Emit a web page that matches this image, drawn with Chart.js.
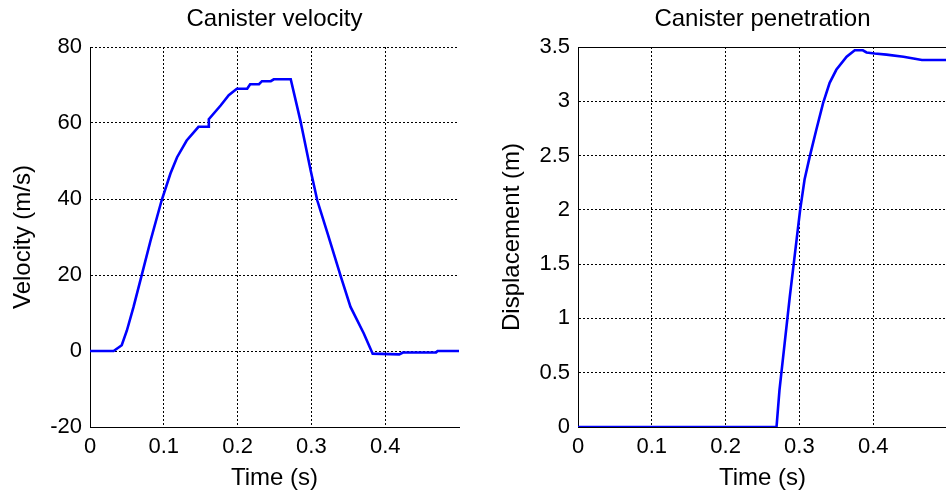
<!DOCTYPE html>
<html>
<head>
<meta charset="utf-8">
<script src="https://cdn.jsdelivr.net/npm/chart.js@4.4.1/dist/chart.umd.min.js"></script>
<style>
  html, body { margin: 0; padding: 0; background: #fff; overflow: hidden; }
  body { width: 946px; height: 494px; position: relative; }
  .panel { position: absolute; top: 0; height: 494px; }
  #velPanel { left: 0; width: 470px; }
  #dispPanel { left: 480px; width: 476px; }
</style>
</head>
<body>
<div class="panel" id="velPanel"><canvas id="velChart"></canvas></div>
<div class="panel" id="dispPanel"><canvas id="dispChart"></canvas></div>
<script>
// Canister velocity
const velTime = [0, 0.032, 0.043, 0.050, 0.059, 0.070, 0.082, 0.097, 0.109, 0.118, 0.131, 0.147,
  0.160, 0.161, 0.177, 0.188, 0.199, 0.213, 0.217, 0.229, 0.233, 0.245, 0.249, 0.272,
  0.285, 0.299, 0.308, 0.322, 0.340, 0.353, 0.371, 0.383, 0.419, 0.424, 0.469, 0.471, 0.5];
const velValues = [0, 0, 1.5, 5.4, 11.6, 19.9, 29, 39.6, 46.7, 51, 55.4, 59,
  59, 61, 64.6, 67.3, 69, 69, 70.2, 70.2, 71, 71, 71.5, 71.5,
  60.7, 47.5, 39.6, 30.9, 19.5, 11.6, 4.6, -0.7, -0.9, -0.4, -0.35, 0, 0];

// Canister penetration
const dispTime = [0, 0.269, 0.273, 0.280, 0.287, 0.294, 0.301, 0.307, 0.314, 0.323, 0.332,
  0.341, 0.350, 0.364, 0.375, 0.386, 0.391, 0.402, 0.418, 0.441, 0.466, 0.5];
const dispValues = [0, 0, 0.34, 0.77, 1.2, 1.6, 2.0, 2.28, 2.49, 2.74, 2.98,
  3.17, 3.29, 3.41, 3.47, 3.47, 3.45, 3.44, 3.43, 3.41, 3.38, 3.38];

// Tick labels
const timeTicks = [0, 0.1, 0.2, 0.3, 0.4];
const velTicks = [-20, 0, 20, 40, 60, 80];
const dispTicks = [0, 0.5, 1, 1.5, 2, 2.5, 3, 3.5];

const FAMILY = '"Liberation Sans", Arial, sans-serif';
const TICK_FONT = { family: FAMILY, size: 22 };
const LABEL_FONT = { family: FAMILY, size: 24, weight: 'normal' };
Chart.defaults.color = '#000';
Chart.defaults.font = TICK_FONT;

function setTicks(values) {
  return scale => { scale.ticks = values.map(v => ({ value: v })); };
}

// solid line along the top edge of the plot box
const topEdge = {
  id: 'topEdge',
  afterDraw(chart, args, opts) {
    if (!opts.show) return;
    const { ctx, chartArea } = chart;
    ctx.save();
    ctx.strokeStyle = '#000';
    ctx.lineWidth = 1;
    ctx.beginPath();
    ctx.moveTo(chartArea.left, Math.round(chartArea.top) + 0.5);
    ctx.lineTo(chartArea.right, Math.round(chartArea.top) + 0.5);
    ctx.stroke();
    ctx.restore();
  }
};

function makeChart(id, cfg) {
  return new Chart(document.getElementById(id), {
    type: 'line',
    data: {
      datasets: [{
        data: cfg.xs.map((x, i) => ({ x, y: cfg.ys[i] })),
        borderColor: '#0000ff',
        borderWidth: 2.6,
        pointRadius: 0,
        tension: 0,
        fill: false
      }]
    },
    options: {
      responsive: true,
      maintainAspectRatio: false,
      animation: false,
      layout: { padding: { left: 0, right: cfg.padRight, top: 0, bottom: 0 } },
      plugins: {
        legend: { display: false },
        tooltip: { enabled: false },
        title: {
          display: true,
          text: cfg.title,
          fullSize: false,
          font: LABEL_FONT,
          padding: { top: 5, bottom: 13.2 }
        },
        topEdge: { show: cfg.topEdge }
      },
      scales: {
        x: {
          type: 'linear',
          min: 0,
          max: 0.5,
          afterBuildTicks: setTicks(timeTicks),
          afterFit: s => { s.height = 67; },
          grid: { color: '#000', lineWidth: 1, drawTicks: false },
          border: { color: '#000', width: 1, dash: [2, 2] },
          ticks: { padding: 7, maxRotation: 0, callback: v => String(v) },
          title: { display: true, text: 'Time (s)', font: LABEL_FONT, padding: { top: 0, bottom: 1.6 } }
        },
        y: {
          type: 'linear',
          min: cfg.yMin,
          max: cfg.yMax,
          afterBuildTicks: setTicks(cfg.yTicks),
          afterFit: s => { s.width = cfg.yWidth; },
          grid: { color: '#000', lineWidth: 1, drawTicks: false },
          border: { color: '#000', width: 1, dash: [2, 2] },
          ticks: { padding: 8, callback: v => String(v) },
          title: { display: true, text: cfg.yLabel, font: LABEL_FONT, padding: { top: cfg.yTitlePad, bottom: 0 } }
        }
      }
    },
    plugins: [topEdge]
  });
}

makeChart('velChart', {
  xs: velTime, ys: velValues, title: 'Canister velocity', yLabel: 'Velocity (m/s)',
  yMin: -20, yMax: 80, yTicks: velTicks, yWidth: 90, yTitlePad: 8.6, padRight: 11, topEdge: false
});

makeChart('dispChart', {
  xs: dispTime, ys: dispValues, title: 'Canister penetration', yLabel: 'Displacement (m)',
  yMin: 0, yMax: 3.5, yTicks: dispTicks, yWidth: 98, yTitlePad: 17.6, padRight: 9, topEdge: true
});
</script>
</body>
</html>
